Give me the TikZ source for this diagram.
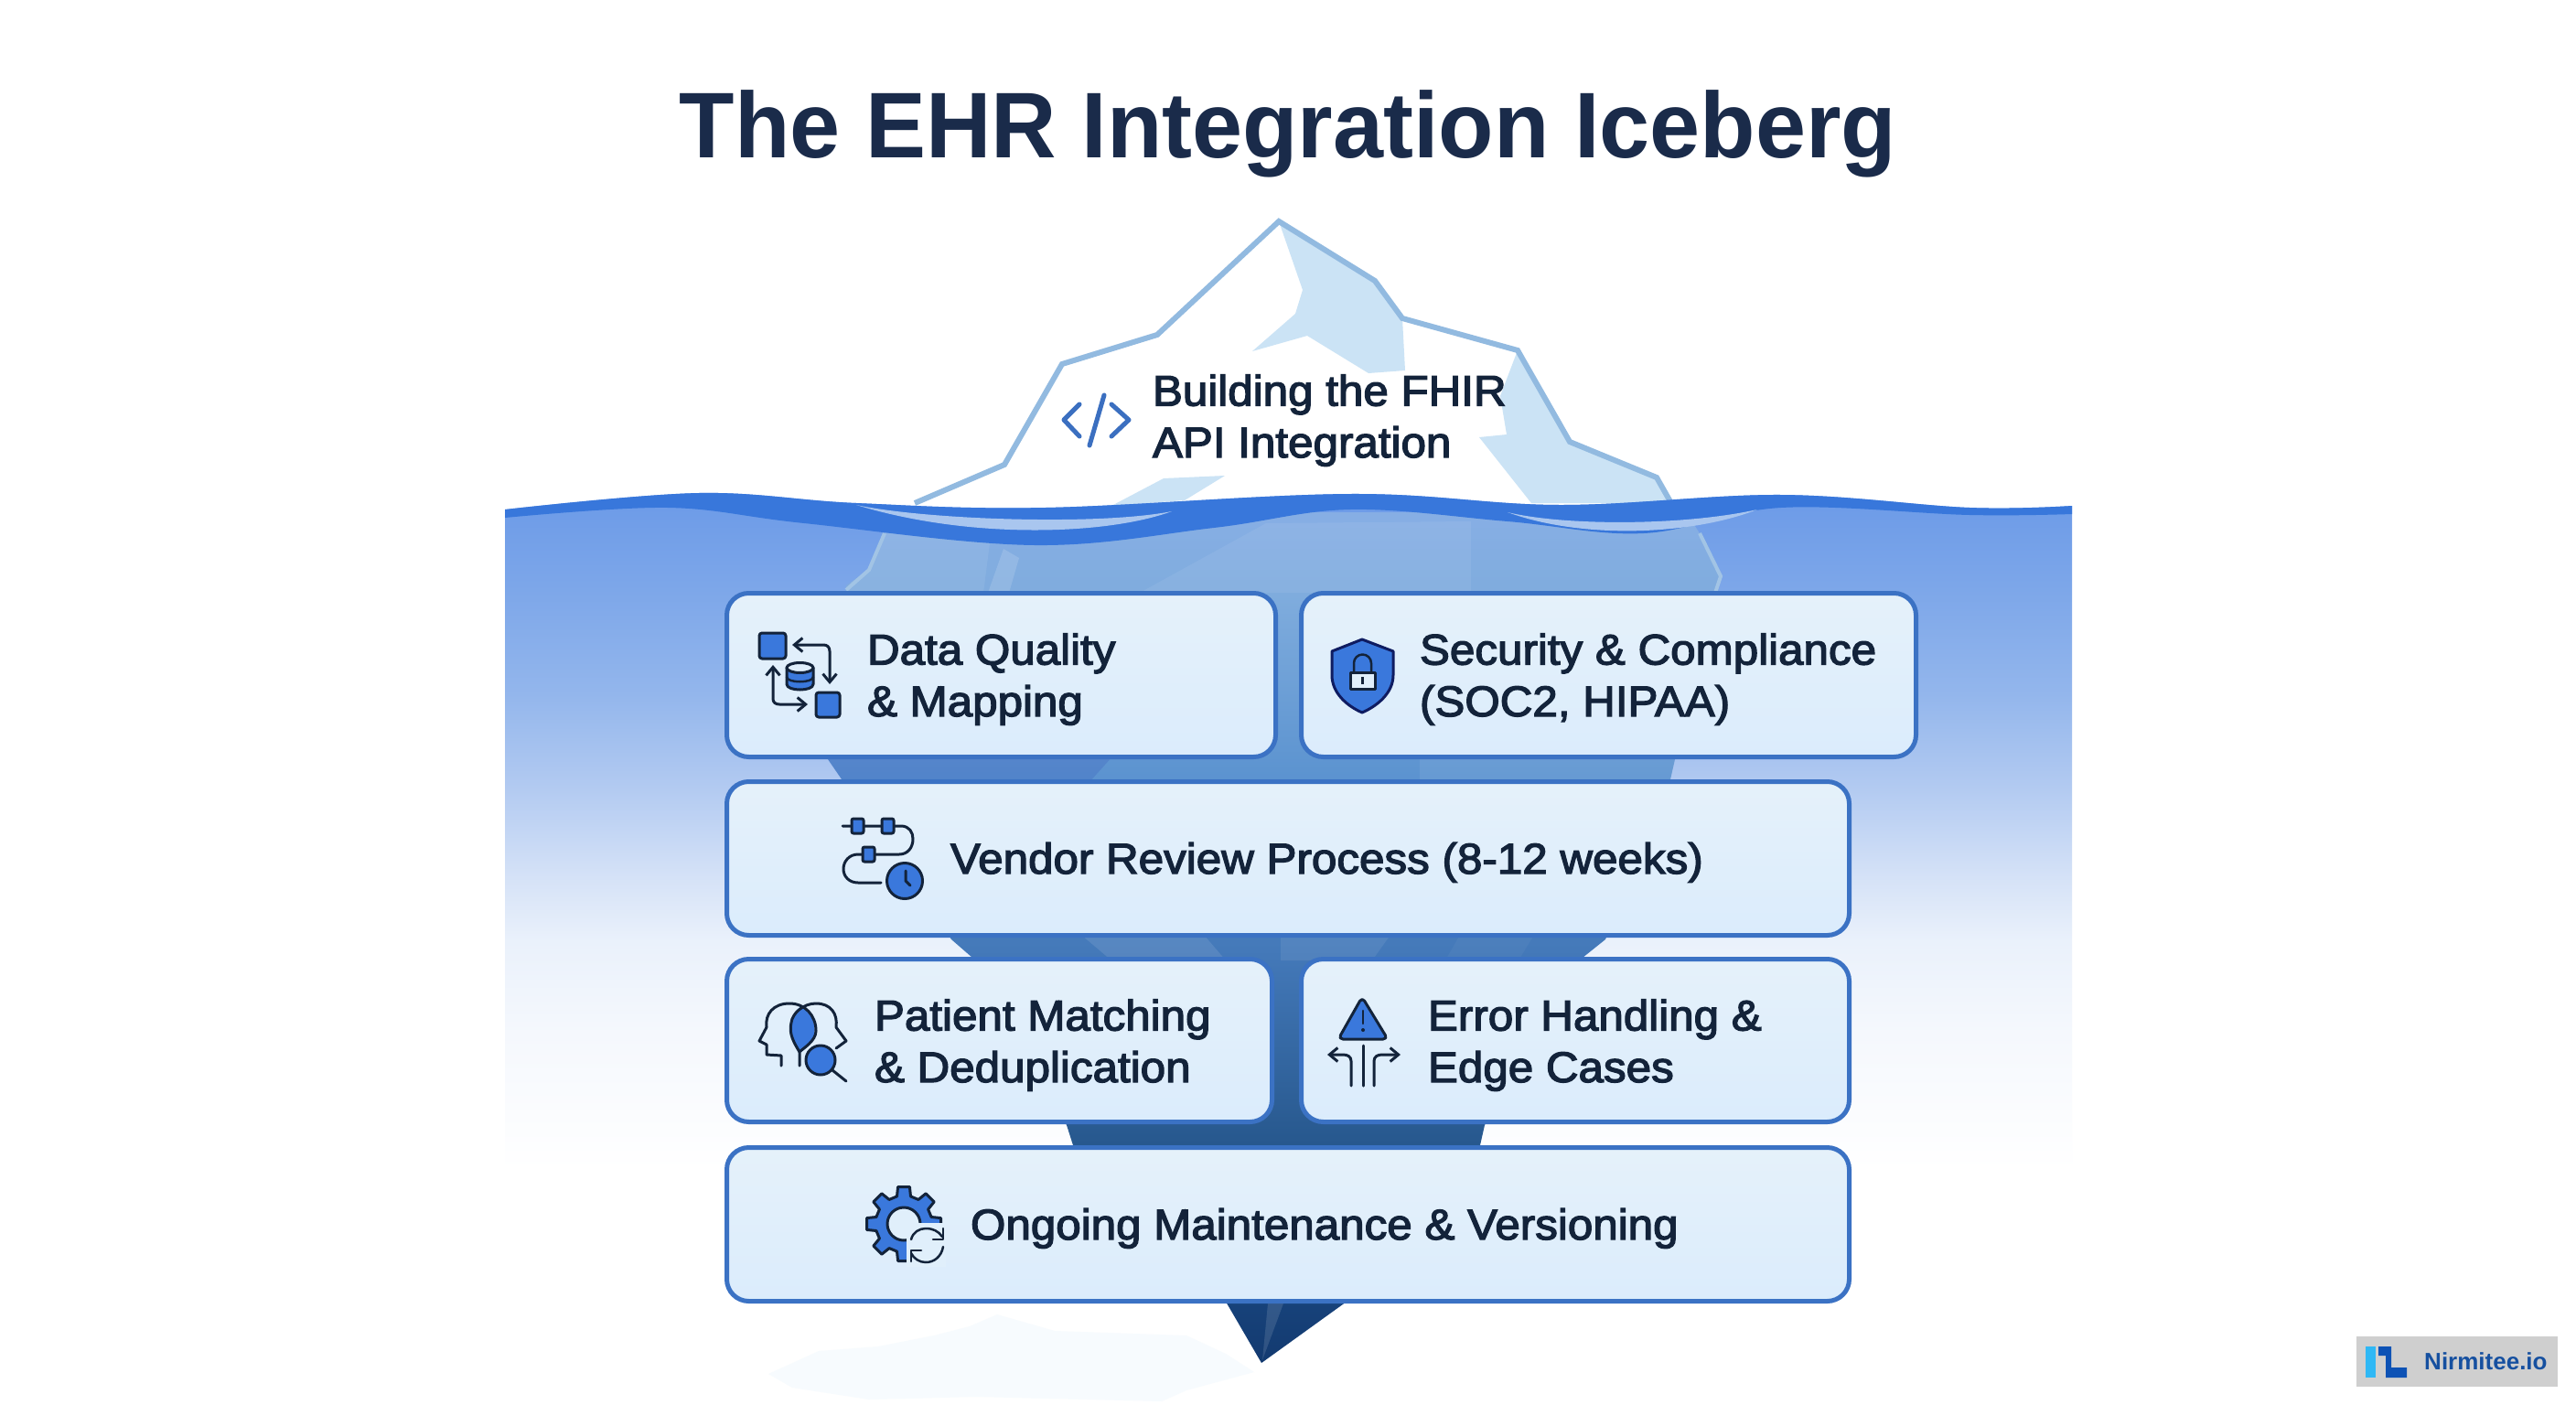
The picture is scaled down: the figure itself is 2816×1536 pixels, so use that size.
\documentclass[tikz,border=0pt]{standalone}
\usepackage{fontspec}
\setmainfont{Liberation Sans}
\newfontfamily\medf[FakeStretch=1.05,RawFeature={embolden=2.8}]{Liberation Sans}
\newfontfamily\boldf[FakeStretch=.97]{Liberation Sans Bold}
\newfontfamily\logof{Liberation Sans Bold}
\usetikzlibrary{arrows.meta}
\definecolor{navy}{HTML}{1A2B4A}
\definecolor{ink}{HTML}{13233A}
\definecolor{wave}{HTML}{3877DB}
\definecolor{waveglow}{HTML}{A9C6EF}
\definecolor{bergline}{HTML}{92BAE0}
\definecolor{bergshade}{HTML}{CBE3F5}
\definecolor{boxline}{HTML}{3B72C4}
\definecolor{boxtop}{HTML}{E5F1FA}
\definecolor{boxbot}{HTML}{DBECFC}
\definecolor{boxmid}{HTML}{E0EFFB}
\definecolor{icblue}{HTML}{3A78DC}
\definecolor{refl}{HTML}{F7FBFE}
\definecolor{codeblue}{HTML}{3B6FC0}
\definecolor{logogray}{HTML}{CFCFCF}
\definecolor{logocyan}{HTML}{2FB8F5}
\definecolor{logoblue}{HTML}{0D52B5}
\definecolor{logotext}{HTML}{1650A0}
\definecolor{w1}{HTML}{F5F8FD}\definecolor{w2}{HTML}{EAF1FB}\definecolor{w3}{HTML}{D5E2F7}
\definecolor{w4}{HTML}{B2CAF1}\definecolor{w5}{HTML}{93B6EC}\definecolor{w6}{HTML}{7CA6E9}\definecolor{w7}{HTML}{6E9CE8}
\pgfdeclareverticalshading{waterdeep}{100bp}{
 color(0bp)=(white); color(25bp)=(white); color(35.1bp)=(w1); color(41.9bp)=(w2);
 color(46.6bp)=(w3); color(53.3bp)=(w4); color(60.1bp)=(w5); color(68.2bp)=(w6);
 color(73.8bp)=(w7); color(100bp)=(w7)}
\definecolor{b1}{HTML}{86AEE4}\definecolor{b2}{HTML}{7FACDD}\definecolor{b3}{HTML}{5A92CF}
\definecolor{b4}{HTML}{4378B8}\definecolor{b5}{HTML}{28598F}\definecolor{b6}{HTML}{17427A}\definecolor{b7}{HTML}{133A70}
\pgfdeclareverticalshading{bergdeep}{100bp}{
 color(0bp)=(b7); color(25bp)=(b7); color(28.6bp)=(b6); color(38.3bp)=(b5);
 color(48.9bp)=(b4); color(59bp)=(b3); color(70.1bp)=(b2); color(74.4bp)=(b1); color(100bp)=(b1)}
\tikzset{
 card/.style={draw=boxline,line width=5pt,rounded corners=24pt,inner sep=0pt,outer sep=0pt,
   top color=boxtop,bottom color=boxbot},
 cardtext/.style={anchor=base west,inner sep=0pt,outer sep=0pt,text=ink,align=left,
   font=\medf\fontsize{47}{56.5}\selectfont},
 ic/.style={draw=ink,line width=3pt,line join=round,line cap=round},
 icfill/.style={ic,fill=icblue},
 tipline/.style={ic,-{Straight Barb[length=9pt,width=15pt]}},
 twotips/.style={ic,{Straight Barb[length=9pt,width=15pt]}-{Straight Barb[length=9pt,width=15pt]}},
 codeline/.style={draw=codeblue,line width=5pt,line cap=round,line join=round}
}
\newcommand{\bergpath}{(980,560) -- (967,583) -- (950,623) -- (925,640) -- (905,830) -- (1040,1027) -- (1063,1047) -- (1166,1230) -- (1173,1252) -- (1340,1423) -- (1379,1490) -- (1472,1423) -- (1618,1252) -- (1623,1230) -- (1730,1047) -- (1755,1027) -- (1826,852) -- (1831,830) -- (1872,650) -- (1881,630) -- (1858,583) -- (1843,560) -- cycle}
\begin{document}
\begin{tikzpicture}[x=1pt,y=-1pt]
\useasboundingbox (0,0) rectangle (2816,1536);
\fill[white] (0,0) rectangle (2816,1536);
% faint reflection
\fill[refl] (840,1502) -- (895,1477) -- (960,1472) -- (1021,1460) -- (1060,1450) -- (1090,1437) -- (1153,1455) -- (1297,1460) -- (1340,1480) -- (1371,1500) -- (1297,1520) -- (1270,1532) -- (1067,1527) -- (950,1530) -- (866,1517) -- cycle;
% title
\node[anchor=base,inner sep=0pt,text=navy,font=\boldf\fontsize{102}{110}\selectfont] (title) at (1408,172) {The EHR Integration Iceberg};
% iceberg above water
\fill[white] (1398,242) -- (1265,366) -- (1161,398) -- (1098,508) -- (1000,547) -- (1000,600) -- (1828,600) -- (1828,548) -- (1811,522) -- (1716,483) -- (1659,383) -- (1533,348) -- (1503,307) -- cycle;
\fill[bergshade] (1398,242) -- (1503,307) -- (1533,348) -- (1536,405) -- (1496,408) -- (1429,367) -- (1369,384) -- (1416,343) -- (1424,317) -- cycle;
\fill[bergshade] (1659,383) -- (1716,483) -- (1811,522) -- (1828,550) -- (1674,550) -- (1617,478) -- (1647,475) -- (1640,433) -- cycle;
\fill[bergshade] (1272,523) -- (1339,520) -- (1295,547) -- (1215,553) -- cycle;
\draw[bergline,line width=6pt,line join=miter] (1000,550) -- (1098,508) -- (1161,398) -- (1265,366) -- (1398,242) -- (1503,307) -- (1533,348) -- (1659,383) -- (1716,483) -- (1811,522) -- (1828,552);
% water
\shade[shading=waterdeep] plot[smooth,tension=.6] coordinates {(552,557)(764,539)(936,550)(1143,555)(1476,540)(1705,552)(1947,541)(2153,555)(2265,553)} -- (2265,1280) -- (552,1280) -- cycle;
% iceberg below water
\shade[shading=bergdeep] \bergpath;
\begin{scope}
\clip \bergpath;
\fill[white,opacity=.07] (1384,572) -- (1246,648) -- (1608,648) -- (1608,570) -- cycle;
\fill[white,opacity=.14] (1097,600) -- (1114,610) -- (1103,648) -- (1080,648) -- cycle;
\fill[white,opacity=.08] (960,570) -- (1085,570) -- (1075,648) -- (925,648) -- cycle;
\fill[black!40!blue,opacity=.10] (900,826) -- (1217,826) -- (1190,856) -- (920,856) -- cycle;
\fill[white,opacity=.07] (1552,826) -- (1840,826) -- (1840,856) -- (1552,856) -- cycle;
\fill[white,opacity=.10] (1182,1022) -- (1316,1022) -- (1340,1050) -- (1215,1050) -- cycle;
\fill[white,opacity=.08] (1400,1022) -- (1520,1022) -- (1500,1050) -- (1400,1050) -- cycle;
\fill[white,opacity=.04] (1596,1022) -- (1677,1022) -- (1660,1050) -- (1580,1050) -- cycle;
\fill[white,opacity=.12] (1386,1425) -- (1403,1425) -- (1380,1487) -- cycle;
\end{scope}
\draw[bergline!85!white,line width=4pt] (967,583) -- (950,623) -- (925,645);
\draw[bergline!85!white,line width=4pt] (1858,583) -- (1881,630) -- (1875,648);
% wave band and highlights
\fill[wave] plot[smooth,tension=.6] coordinates {(552,557)(764,539)(936,550)(1143,555)(1476,540)(1705,552)(1947,541)(2153,555)(2265,553)} -- plot[smooth,tension=.6] coordinates {(2265,562)(2153,563)(1947,555)(1797,583)(1648,570)(1476,557)(1327,577)(1131,596)(879,572)(730,555)(552,566)} -- cycle;
\fill[waveglow] (936,552) .. controls (1010,568) and (1200,575) .. (1281,559) .. controls (1210,585) and (1060,590) .. cycle;
\fill[waveglow] (1648,560) .. controls (1710,575) and (1840,575) .. (1921,557) .. controls (1850,585) and (1730,590) .. cycle;
% cards
\node[card,minimum width=600pt,minimum height=179pt] (quality) at (1094.5,738) {};
\node[card,minimum width=672pt,minimum height=179pt] (security) at (1758.5,738) {};
\node[card,minimum width=1227pt,minimum height=168pt] (vendor) at (1408,938.5) {};
\node[card,minimum width=596pt,minimum height=178pt] (patient) at (1092.5,1137.5) {};
\node[card,minimum width=599pt,minimum height=178pt] (errors) at (1722,1137.5) {};
\node[card,minimum width=1227pt,minimum height=168pt] (maintenance) at (1408,1338.5) {};
% labels (anchored at the baseline of the last line)
\node[cardtext] (apilabel) at (1260,500) {Building the FHIR\\API Integration};
\node[cardtext] (qualitylabel) at (948,783) {Data Quality\\\& Mapping};
\node[cardtext] (securitylabel) at (1552,783) {Security \& Compliance\\(SOC2, HIPAA)};
\node[cardtext] (vendorlabel) at (1039,955) {Vendor Review Process (8-12 weeks)};
\node[cardtext] (patientlabel) at (956,1183) {Patient Matching\\\& Deduplication};
\node[cardtext] (errorlabel) at (1561,1183) {Error Handling \&\\Edge Cases};
\node[cardtext] (maintlabel) at (1061,1355) {Ongoing Maintenance \& Versioning};
% code icon
\draw[codeline] (1180,442) -- (1163,459) -- (1180,477);
\draw[codeline] (1207,432) -- (1191,487);
\draw[codeline] (1215,442) -- (1234,459) -- (1215,477);
% data icon
\draw[icfill,rounded corners=3pt] (830,692) rectangle (859,720);
\draw[icfill,rounded corners=3pt] (892,757) rectangle (918,784);
\draw[twotips] (907,748) -- (907,712) .. controls (907,707) and (904,705) .. (900,705) -- (866,705);
\draw[twotips] (883,770) -- (852,770) .. controls (848,770) and (845,768) .. (845,764) -- (845,727);
\draw[icfill] (860,730) -- (860,748) .. controls (860,756) and (889,756) .. (889,748) -- (889,730) -- cycle;
\draw[ic,line width=2.5pt] (860,740) .. controls (860,747) and (889,747) .. (889,740);
\draw[ic,fill=boxmid] (874.5,730) ellipse [x radius=14.5,y radius=5.5];
% shield icon
\draw[ic,fill=icblue,draw=ink!80!blue] (1489,699) -- (1523,712) -- (1523,738) .. controls (1523,758) and (1505,772) .. (1489,779) .. controls (1473,772) and (1456,758) .. (1456,738) -- (1456,712) -- cycle;
\draw[ic,line width=2.5pt,draw=ink] (1480,735) -- (1480,725) arc[start angle=180,end angle=360,radius=9.5] -- (1499,735);
\draw[ic,fill=boxmid] (1476,735) rectangle (1503,753);
\fill[ink] (1488,740) rectangle (1491,748);
% vendor icon
\draw[ic] (921,903) -- (985,903) .. controls (994,903) and (998,910) .. (998,917) .. controls (998,927) and (992,934) .. (983,934) -- (938,934) .. controls (928,934) and (922,942) .. (922,950) .. controls (922,958) and (928,965) .. (938,965) -- (963,965);
\draw[icfill,rounded corners=2pt] (931,895) rectangle (944,911);
\draw[icfill,rounded corners=2pt] (964,895) rectangle (977,911);
\draw[icfill,rounded corners=2pt] (943,926) rectangle (956,942);
\draw[icfill] (989,963) circle (19.5);
\draw[ic] (990,952) -- (990,963) -- (995,968);
% patient icon
\fill[icblue] (878,1099) .. controls (890,1110) and (895,1130) .. (886,1140) .. controls (882,1145) and (876,1148) .. (874,1150) .. controls (868,1140) and (862,1130) .. (865,1118) .. controls (866,1110) and (870,1103) .. cycle;
\draw[ic] (854,1165) -- (854,1154) -- (838,1153) -- (838,1142) -- (830,1138) -- (838,1123) .. controls (836,1108) and (846,1097) .. (863,1097) .. controls (880,1097) and (892,1110) .. (892,1127) .. controls (892,1138) and (878,1146) .. (874,1150) -- (874,1165);
\draw[ic] (874,1150) .. controls (868,1140) and (862,1130) .. (865,1118) .. controls (866,1108) and (878,1097) .. (892,1097) .. controls (908,1097) and (916,1108) .. (914,1123) -- (925,1138) -- (914,1146);
\draw[icfill] (897,1159) circle (16);
\draw[ic] (910,1170) -- (925,1182);
% warning icon
\draw[icfill,rounded corners=5pt] (1489,1090) -- (1517,1136) -- (1463,1136) -- cycle;
\draw[ic,line width=2.5pt] (1490,1105) -- (1490,1119);
\fill[ink] (1490,1126) circle (2);
\draw[ic] (1490,1143) -- (1490,1187);
\draw[tipline] (1477,1187) -- (1477,1160) .. controls (1477,1155) and (1473,1153) .. (1468,1153) -- (1451,1153);
\draw[tipline] (1502,1187) -- (1502,1160) .. controls (1502,1155) and (1506,1153) .. (1511,1153) -- (1531,1153);
% gear icon
\begin{scope}[shift={(988,1338)}]
\draw[icfill] (-14:31)
  \foreach \a in {0,45,...,315} { -- (\a-14:31) -- (\a-9:41) -- (\a+9:41) -- (\a+14:31) } -- cycle;
\draw[ic,fill=boxmid] (0,0) circle (18);
\end{scope}
\fill[boxmid] (991,1337) rectangle (1034,1385);
\draw[ic,line width=2.5pt] (996,1355) .. controls (998,1347) and (1005,1343) .. (1012,1343) .. controls (1020,1343) and (1026,1346) .. (1030,1352);
\draw[ic,line width=2.5pt] (1031,1343) -- (1031,1355) -- (1020,1355);
\draw[ic,line width=2.5pt] (1031,1363) .. controls (1029,1374) and (1021,1380) .. (1012,1380) .. controls (1005,1380) and (999,1376) .. (996,1370);
\draw[ic,line width=2.5pt] (996,1379) -- (996,1367) -- (1007,1367);
% logo
\fill[logogray] (2576,1461) rectangle (2796,1516);
\fill[logocyan] (2586,1472) rectangle (2597,1506);
\fill[logoblue] (2600,1472) -- (2614,1472) -- (2614,1495) -- (2631,1495) -- (2631,1506) -- (2608,1506) -- (2608,1482) -- (2600,1482) -- cycle;
\node[anchor=base west,inner sep=0pt,text=logotext,font=\logof\fontsize{26}{30}\selectfont] (logoname) at (2650,1497) {Nirmitee.io};
\end{tikzpicture}
\end{document}
